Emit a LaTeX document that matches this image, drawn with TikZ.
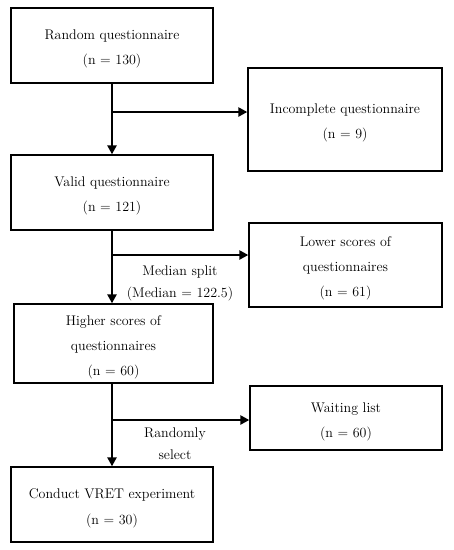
\documentclass[tikz,border=0pt]{standalone}
\usetikzlibrary{arrows.meta}
\begin{document}
\begin{tikzpicture}[x=1pt,y=-1pt,
  box/.style={draw, line width=1.3pt, minimum width=#1, align=center, inner sep=0pt,
     font=\fontsize{14}{25}\selectfont},
  flow/.style={line width=2.8pt, -{Triangle[length=9pt,width=9pt]}},
  lbl/.style={align=center, font=\fontsize{14}{22}\selectfont}]
\useasboundingbox (0,0) rectangle (454,550);
\node[box=202pt, minimum height=75pt] (b1) at (112,45.5) {\strut Random questionnaire\\(n = 130)};
\node[box=194pt, minimum height=103pt] (inc) at (345,119.5) {\strut Incomplete questionnaire\\(n = 9)};
\node[box=202pt, minimum height=75pt] (b2) at (112,192.5) {\strut Valid questionnaire\\(n = 121)};
\node[box=193pt, minimum height=84pt] (low) at (345.5,265) {\strut Lower scores of\\questionnaires\\(n = 61)};
\node[box=199pt, minimum height=79pt] (b3) at (113.5,343.5) {\strut Higher scores of\\questionnaires\\(n = 60)};
\node[box=192pt, minimum height=64pt] (wait) at (346,418) {\strut Waiting list\\(n = 60)};
\node[box=202pt, minimum height=75pt] (b4) at (112,504.5) {\strut Conduct VRET experiment\\(n = 30)};
\coordinate (j1) at (112,112);
\coordinate (j2) at (112,255);
\coordinate (j3) at (112,420);
\draw[flow] (b1.south -| j1) -- (b2.north -| j1);
\draw[flow] (j1) -- (j1 -| inc.west);
\draw[flow] (b2.south -| j2) -- (b3.north -| j2);
\draw[flow] (j2) -- (j2 -| low.west);
\draw[flow] (b3.south -| j3) -- (b4.north -| j3);
\draw[flow] (j3) -- (j3 -| wait.west);
\node[lbl] (m) at (180,283) {Median split\\(Median = 122.5)};
\node[lbl] (r) at (175,444) {Randomly\\select};
\end{tikzpicture}
\end{document}
